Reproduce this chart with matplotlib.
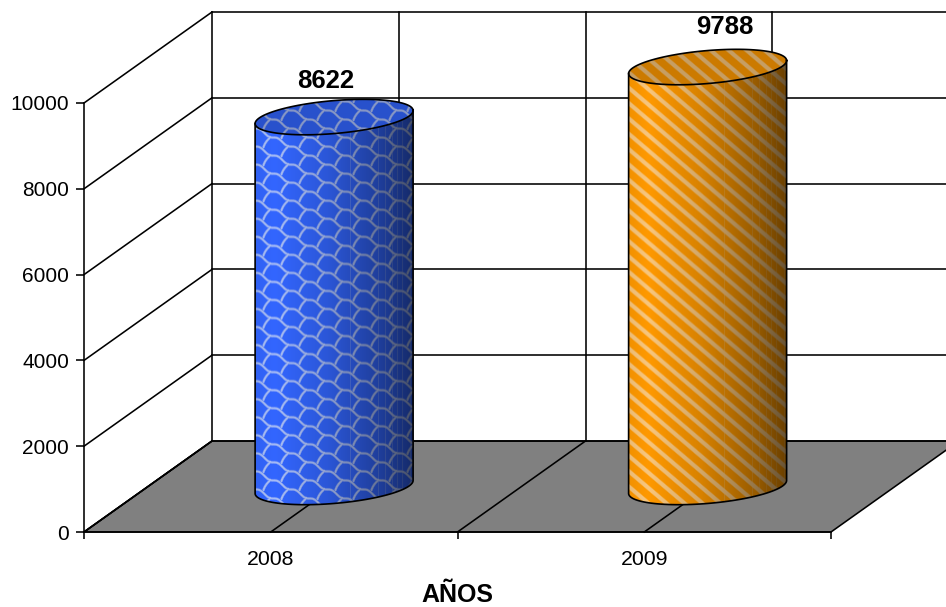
import numpy as np
import matplotlib
matplotlib.use('Agg')
import matplotlib.pyplot as plt
from matplotlib.patches import Polygon

years = ['2008', '2009']
values = [8622, 9788]
y_ticks = [0, 2000, 4000, 6000, 8000, 10000]

plt.rcParams['font.family'] = ['Liberation Sans', 'DejaVu Sans']

W, H = 946, 607
fig = plt.figure(figsize=(W/100, H/100), dpi=100, facecolor='white')
ax = fig.add_axes([84/W, (H-532)/H, (831-84)/W, (532-103)/H])

# pixels per data unit, the "3d" look is only a shear of the front plane
PX_X = 747/2
PX_Y = 429/10000
DX = 128/PX_X
DY = 91/PX_Y
DEPTH = 0.495
RAD = 79/PX_X
CAP_H = 16.5/PX_Y
CAP_TILT = 6.5/PX_Y
GREY = '#808080'
LW = 1.15


def scale_tile():
    # wavy brick pattern of the blue bar, as distance to a small curve
    pw, ph = 36, 18
    u = np.linspace(0, 1, 60)
    # smooth stair going down to the right, two periods of it
    sx = 36*u
    sy = 18*(u-np.sin(4*np.pi*u)/(4*np.pi))
    # short link from the end of a step to the stair below
    v = np.linspace(0, 1, 24)
    lx1 = 15-7*v-np.sin(np.pi*v)
    ly1 = 8.5+10*v
    px = np.r_[sx, lx1, lx1+18]
    py = np.r_[sy, ly1, ly1+9]
    yy, xx = np.mgrid[0:ph, 0:pw]
    best = np.full(xx.shape, 99.0)
    for i in (-1, 0, 1):
        for j in (-1, 0, 1):
            d = np.hypot(xx[..., None]-(px+i*pw), yy[..., None]-(py+j*ph))
            best = np.minimum(best, d.min(axis=-1))
    return np.clip((1.7-best)/1.2, 0, 1)


def pattern(kind, rows, cols):
    yy, xx = np.mgrid[0:rows, 0:cols]
    if kind == 'wave':
        tile = scale_tile()
        return tile[yy % tile.shape[0], xx % tile.shape[1]]
    d = ((xx-yy/0.85) % 18)
    d = np.minimum(d, 18-d)
    return np.clip((4.2-d)/2, 0, 1)


def bar_image(kind, base, light, rows, cols, shaded):
    mask = pattern(kind, rows, cols)[..., None]
    img = np.array(base)*(1-mask) + np.array(light)*mask
    if shaded:
        u = np.linspace(0, 1, cols)
        shade = np.interp(u, [0, .12, .45, .8, 1], [.95, 1, .85, .6, .42])
        offs = np.array([17.5, 45.5, 52.5, 59.5, 64.5, 69.5, 77]) + 79
        img = img*shade[None, :, None]
        for o in offs:
            c = int(o*(cols-1)/158)
            img[:, c] = img[:, c]*.7 + np.array(light)*shade[c]*.3
    else:
        img = img*.8
    return np.clip(img/255, 0, 1)


def ellipse(cx, cy, a, b):
    return cx+RAD*np.cos(a), cy+CAP_H*np.sin(a)+CAP_TILT*np.cos(a)*b


# floor and walls
ax.add_patch(Polygon([[0, 0], [DX, DY], [2+DX, DY], [2, 0]], closed=True,
                     facecolor=GREY, edgecolor='black', lw=LW, clip_on=False, zorder=1))
for v in y_ticks:
    ax.plot([0, DX], [v, v+DY], color='black', lw=LW, clip_on=False, zorder=1.5)
    ax.plot([DX, 2+DX], [v+DY, v+DY], color='black', lw=LW, clip_on=False, zorder=1.5)
for x in [0, .5, 1, 1.5]:
    ax.plot([x+DX, x+DX], [DY, 10000+DY], color='black', lw=LW, clip_on=False, zorder=1.5)
    ax.plot([x, x+DX], [0, DY], color='black', lw=LW, clip_on=False, zorder=1.5)

styles = [('wave', (51, 102, 255), (170, 190, 245)),
          ('stripe', (255, 153, 0), (248, 198, 125))]
label_dx = [-8, 17]
label_dy = [36, 40]

for i, val in enumerate(values):
    kind, base, light = styles[i]
    cx = i+.5+DEPTH*DX
    y0 = DEPTH*DY
    y1 = y0+val
    a = np.linspace(0, 2*np.pi, 121)
    # body: bottom arc then back along the top end points
    ba = np.linspace(np.pi, 0, 61)
    bx, by = cx+RAD*np.cos(ba), y0-CAP_H*np.sin(ba)+CAP_TILT*np.cos(ba)
    body_x = np.r_[bx, cx+RAD, cx-RAD]
    body_y = np.r_[by, y1+CAP_TILT, y1-CAP_TILT]
    lo, hi = y0-1.5*CAP_H, y1+1.5*CAP_H
    rows = int((hi-lo)*PX_Y)
    im = ax.imshow(bar_image(kind, base, light, rows, 158, True), aspect='auto',
                   extent=(cx-RAD, cx+RAD, lo, hi), interpolation='bilinear', zorder=3)
    im.set_clip_box(fig.bbox)
    im.set_clip_path(Polygon(np.c_[body_x, body_y], closed=True, transform=ax.transData))
    cap_x, cap_y = ellipse(cx, y1, a, 1)
    im2 = ax.imshow(bar_image(kind, base, light, rows, 158, False), aspect='auto',
                    extent=(cx-RAD, cx+RAD, lo, hi), interpolation='bilinear', zorder=3.1)
    im2.set_clip_box(fig.bbox)
    im2.set_clip_path(Polygon(np.c_[cap_x, cap_y], closed=True, transform=ax.transData))
    ax.plot(np.r_[cx-RAD, bx, cx+RAD], np.r_[y1-CAP_TILT, by, y1+CAP_TILT],
            color='black', lw=1.2, clip_on=False, zorder=3.2)
    ax.plot(cap_x, cap_y, color='black', lw=1.2, clip_on=False, zorder=3.2)
    ax.annotate(str(val), xy=(cx, y1), xytext=(label_dx[i]*.72, label_dy[i]*.72),
                textcoords='offset points', ha='center', va='center',
                fontsize=18.5, fontweight='bold', annotation_clip=False, zorder=4)

ax.set_xlim(0, 2)
ax.set_ylim(0, 10000)
ax.patch.set_visible(False)
ax.spines['top'].set_visible(False)
ax.spines['right'].set_visible(False)
for s in ['left', 'bottom']:
    ax.spines[s].set_linewidth(LW)
    ax.spines[s].set_zorder(2)
ax.set_yticks(y_ticks)
ax.tick_params(axis='y', labelsize=15, length=5.8, width=LW, pad=5)
ax.set_xticks([0, 1, 2])
ax.set_xticklabels([])
ax.set_xticks([.5, 1.5], minor=True)
ax.set_xticklabels(years, minor=True)
ax.tick_params(axis='x', which='major', length=5, width=LW)
ax.tick_params(axis='x', which='minor', length=0, labelsize=15.3, pad=13)
ax.set_xlabel('AÑOS', fontsize=18, fontweight='bold', labelpad=10)

fig.savefig('out.png', dpi=100)
